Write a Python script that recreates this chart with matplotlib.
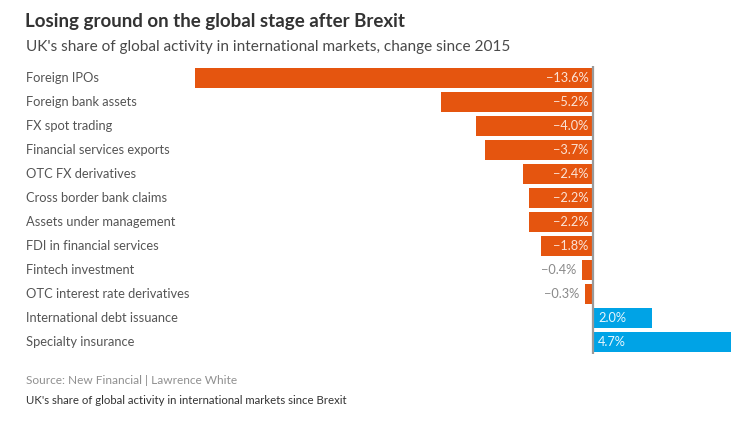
import matplotlib
matplotlib.use("Agg")
import matplotlib.pyplot as plt
from matplotlib.transforms import blended_transform_factory

categories = ["Foreign IPOs", "Foreign bank assets", "FX spot trading",
              "Financial services exports", "OTC FX derivatives",
              "Cross border bank claims", "Assets under management",
              "FDI in financial services", "Fintech investment",
              "OTC interest rate derivatives", "International debt issuance",
              "Specialty insurance"]
values = [-13.6, -5.2, -4.0, -3.7, -2.4, -2.2, -2.2, -1.8, -0.4, -0.3, 2.0, 4.7]
value_labels = ["\u221213.6%", "\u22125.2%", "\u22124.0%", "\u22123.7%", "\u22122.4%",
                "\u22122.2%", "\u22122.2%", "\u22121.8%", "\u22120.4%", "\u22120.3%",
                "2.0%", "4.7%"]

ORANGE = "#E5550F"
BLUE = "#00A3E6"
FONT = "Lato"

plt.rcParams['font.family'] = [FONT, 'DejaVu Sans']

fig = plt.figure(figsize=(7.47, 4.25), dpi=100)
ax = fig.add_axes([195/747, 1-354/425, (731-195)/747, (354-66)/425])

ypos = list(range(len(categories)))
colors = [ORANGE if v < 0 else BLUE for v in values]
ax.barh(ypos, values, height=0.84, color=colors, zorder=2)
ax.set_ylim(len(categories)-0.5, -0.5)
ax.set_xlim(-13.6, 4.7)
ax.axvline(0, color="#9a9a9a", lw=1.6, zorder=3, ymin=0.005, ymax=0.995)
ax.axis("off")

for y, v, lab in zip(ypos, values, value_labels):
    if v < 0:
        if abs(v) >= 1.0:
            ax.text(-0.17, y, lab, ha="right", va="center", color="#fbe3d6",
                    fontsize=9.2, zorder=4)
        else:
            ax.text(v - 0.17, y, lab, ha="right", va="center", color="#8a8a8a",
                    fontsize=9.2, zorder=4)
    else:
        ax.text(0.17, y, lab, ha="left", va="center", color="#e6f6fd",
                fontsize=9.2, zorder=4)

trans = blended_transform_factory(fig.transFigure, ax.transData)
for y, c in zip(ypos, categories):
    ax.text(26/747, y, c, transform=trans, ha="left", va="center",
            color="#555555", fontsize=9.3)

fig.text(25/747, 1-21/425, "Losing ground on the global stage after Brexit",
         fontsize=13.5, fontweight="bold", color="#333333", ha="left", va="center")
fig.text(26/747, 1-47/425, "UK's share of global activity in international markets, change since 2015",
         fontsize=11.1, color="#4a4a4a", ha="left", va="center")
fig.text(26/747, 1-381/425, "Source: New Financial | Lawrence White",
         fontsize=8.6, color="#909090", ha="left", va="center")
fig.text(26/747, 1-401/425, "UK's share of global activity in international markets since Brexit",
         fontsize=8.2, color="#333333", ha="left", va="center")

fig.savefig("out.png", dpi=100, facecolor="white")
